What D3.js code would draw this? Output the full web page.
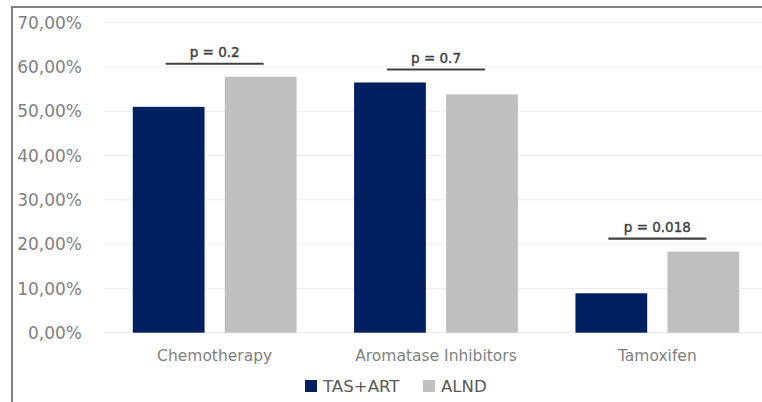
<!DOCTYPE html>
<html>
<head>
<meta charset="utf-8">
<script src="https://cdn.jsdelivr.net/npm/d3@7"></script>
<style>
  body { margin: 0; background: #fff; }
  svg { display: block; font-family: "DejaVu Sans", sans-serif; }
</style>
</head>
<body>
<svg id="chart" width="762" height="402"></svg>
<script>
// data
const categories = ['Chemotherapy', 'Aromatase Inhibitors', 'Tamoxifen'];
const seriesNames = ['TAS+ART', 'ALND'];
const tasArt = [51.0, 56.5, 8.9];
const alnd = [57.8, 53.8, 18.3];
const pValues = ['p = 0.2', 'p = 0.7', 'p = 0.018'];
const yTicks = [0, 10, 20, 30, 40, 50, 60, 70];

const colors = { 'TAS+ART': '#002060', 'ALND': '#bfbfbf' };

const width = 762, height = 402;
const svg = d3.select('#chart');

// outer frame (cropped on right/bottom)
svg.append('rect')
  .attr('x', 12).attr('y', 7)
  .attr('width', 900).attr('height', 600)
  .attr('fill', 'none')
  .attr('stroke', '#808080')
  .attr('stroke-width', 2);

const plot = { left: 104, right: 768, top: 22.7, bottom: 332.7 };

const y = d3.scaleLinear()
  .domain([0, 70])
  .range([plot.bottom, plot.top]);

const x0 = d3.scaleBand()
  .domain(categories)
  .range([plot.left, plot.right])
  .paddingInner(0.26)
  .paddingOuter(0.13);

const x1 = d3.scaleBand()
  .domain(seriesNames)
  .range([0, x0.bandwidth()])
  .paddingInner(0.22);

// gridlines
svg.append('g')
  .selectAll('line')
  .data(yTicks)
  .join('line')
  .attr('x1', plot.left)
  .attr('x2', plot.right)
  .attr('y1', d => y(d))
  .attr('y2', d => y(d))
  .attr('stroke', '#ececec')
  .attr('stroke-width', 1);

// y tick labels
const fmt = d => d.toFixed(2).replace('.', ',') + '%';
svg.append('g')
  .selectAll('text')
  .data(yTicks)
  .join('text')
  .attr('x', 82)
  .attr('y', d => y(d))
  .attr('dy', '0.36em')
  .attr('text-anchor', 'end')
  .attr('fill', '#7f7f7f')
  .style('font-size', '17px')
  .text(fmt);

const rows = categories.map((c, i) => ({
  category: c,
  values: [
    { key: 'TAS+ART', value: tasArt[i] },
    { key: 'ALND', value: alnd[i] }
  ],
  p: pValues[i]
}));

// bars
const groups = svg.append('g')
  .selectAll('g')
  .data(rows)
  .join('g')
  .attr('transform', d => `translate(${x0(d.category)},0)`);

groups.selectAll('rect')
  .data(d => d.values)
  .join('rect')
  .attr('x', d => x1(d.key))
  .attr('y', d => y(d.value))
  .attr('width', x1.bandwidth())
  .attr('height', d => y(0) - y(d.value))
  .attr('fill', d => colors[d.key]);

// category labels
svg.append('g')
  .selectAll('text')
  .data(categories)
  .join('text')
  .attr('x', d => x0(d) + x0.bandwidth() / 2)
  .attr('y', 361)
  .attr('text-anchor', 'middle')
  .attr('fill', '#7f7f7f')
  .style('font-size', '15.5px')
  .text(d => d);

// p-value brackets
const pg = svg.append('g');
rows.forEach(d => {
  const cx = x0(d.category) + x0.bandwidth() / 2;
  const top = y(d3.max(d.values, v => v.value)) - 13;
  pg.append('line')
    .attr('x1', cx - 49).attr('x2', cx + 49)
    .attr('y1', top).attr('y2', top)
    .attr('stroke', '#404040')
    .attr('stroke-width', 2.2);
  pg.append('text')
    .attr('x', cx)
    .attr('y', top - 6.5)
    .attr('text-anchor', 'middle')
    .attr('fill', '#404040')
    .attr('stroke', '#404040')
    .attr('stroke-width', 0.4)
    .style('font-size', '13.5px')
    .text(d.p);
});

// legend
const legendItems = [
  { key: 'TAS+ART', x: 305 },
  { key: 'ALND', x: 423 }
];
const lg = svg.append('g');
legendItems.forEach(item => {
  lg.append('rect')
    .attr('x', item.x).attr('y', 380)
    .attr('width', 12).attr('height', 12)
    .attr('fill', colors[item.key]);
  lg.append('text')
    .attr('x', item.x + 18)
    .attr('y', 392)
    .attr('fill', '#595959')
    .style('font-size', '16.6px')
    .text(item.key);
});
</script>
</body>
</html>
